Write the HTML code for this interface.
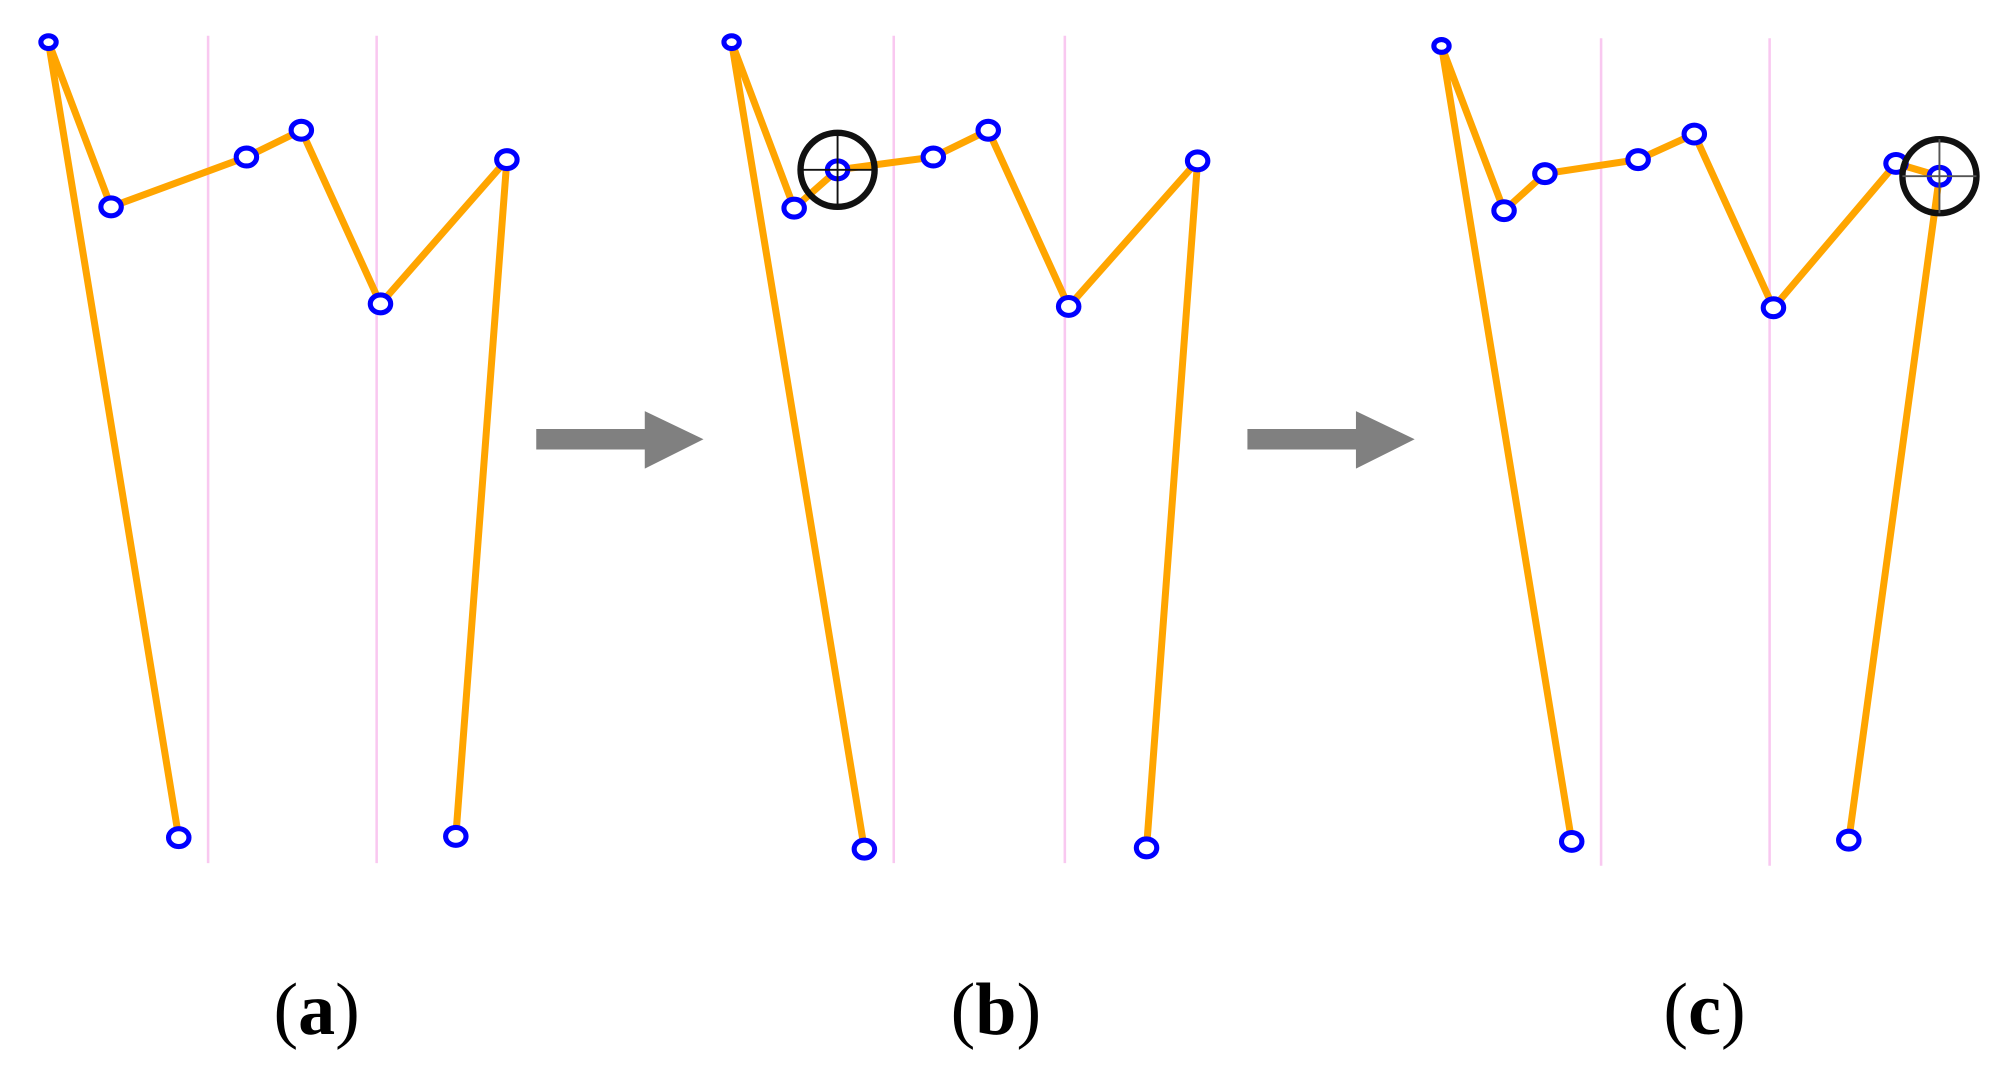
<!DOCTYPE html>
<html><head><style>html,body{margin:0;padding:0;background:#fff}svg{display:block}</style></head>
<body>
<svg width="2002" height="1070" viewBox="0 0 1568 838" preserveAspectRatio="none" xmlns="http://www.w3.org/2000/svg">
<rect width="1568" height="838" fill="#fff"/>
<g stroke="#f9c8f0" stroke-width="2">
<line x1="163" y1="28" x2="163" y2="676"/><line x1="295" y1="28" x2="295" y2="676"/>
<line x1="700" y1="28" x2="700" y2="676"/><line x1="834" y1="28" x2="834" y2="676"/>
<line x1="1254" y1="30" x2="1254" y2="678"/><line x1="1386" y1="30" x2="1386" y2="678"/>
</g>
<g fill="none" stroke="#ffa500" stroke-width="5.5" stroke-linejoin="miter">
<polyline points="140,656 38,33 87,162 193,123 236,102 298,238 397,125 357,655"/>
<polyline points="677,665 573,33 622,163 656,133 731,123 774,102 837,240 938,126 898,664"/>
<polyline points="1231,659 1129,36 1178,165 1210,136 1283,125 1327,105 1389,241 1485,128 1519,138 1448,658"/>
</g>
<g fill="#fff" stroke="#0000ff" stroke-width="4">
<ellipse cx="38" cy="33" rx="6" ry="5"/><ellipse cx="87" cy="162" rx="8" ry="7"/><ellipse cx="193" cy="123" rx="8" ry="7"/><ellipse cx="236" cy="102" rx="8" ry="7"/><ellipse cx="298" cy="238" rx="8" ry="7"/><ellipse cx="397" cy="125" rx="8" ry="7"/><ellipse cx="140" cy="656" rx="8" ry="7"/><ellipse cx="357" cy="655" rx="8" ry="7"/>
<ellipse cx="573" cy="33" rx="6" ry="5"/><ellipse cx="622" cy="163" rx="8" ry="7"/><ellipse cx="656" cy="133" rx="8" ry="7"/><ellipse cx="731" cy="123" rx="8" ry="7"/><ellipse cx="774" cy="102" rx="8" ry="7"/><ellipse cx="837" cy="240" rx="8" ry="7"/><ellipse cx="938" cy="126" rx="8" ry="7"/><ellipse cx="677" cy="665" rx="8" ry="7"/><ellipse cx="898" cy="664" rx="8" ry="7"/>
<ellipse cx="1129" cy="36" rx="6" ry="5"/><ellipse cx="1178" cy="165" rx="8" ry="7"/><ellipse cx="1210" cy="136" rx="8" ry="7"/><ellipse cx="1283" cy="125" rx="8" ry="7"/><ellipse cx="1327" cy="105" rx="8" ry="7"/><ellipse cx="1389" cy="241" rx="8" ry="7"/><ellipse cx="1485" cy="128" rx="8" ry="7"/><ellipse cx="1519" cy="138" rx="8" ry="7"/><ellipse cx="1231" cy="659" rx="8" ry="7"/><ellipse cx="1448" cy="658" rx="8" ry="7"/>
</g>
<g fill="none" stroke="#111">
<circle cx="656" cy="133" r="29" stroke-width="5"/>
<line x1="627" y1="133" x2="685" y2="133" stroke-width="1.5"/><line x1="656" y1="104" x2="656" y2="162" stroke-width="1.5"/>
<circle cx="1519" cy="138" r="29" stroke-width="5"/>
<line x1="1490" y1="138" x2="1548" y2="138" stroke-width="1.5" stroke="#555"/><line x1="1519" y1="109" x2="1519" y2="167" stroke-width="1.5" stroke="#555"/>
</g>
<g fill="#808080">
<polygon points="420,336 505,336 505,322 551,344 505,367 505,352 420,352"/>
<polygon points="977,336 1062,336 1062,322 1108,344 1062,367 1062,352 977,352"/>
</g>
<g font-family="'Liberation Serif',serif" font-size="58" text-anchor="middle" fill="#000">
<text x="248" y="810">(<tspan font-weight="bold">a</tspan>)</text>
<text x="780" y="810">(<tspan font-weight="bold">b</tspan>)</text>
<text x="1335" y="810">(<tspan font-weight="bold">c</tspan>)</text>
</g>
</svg>
</body></html>
